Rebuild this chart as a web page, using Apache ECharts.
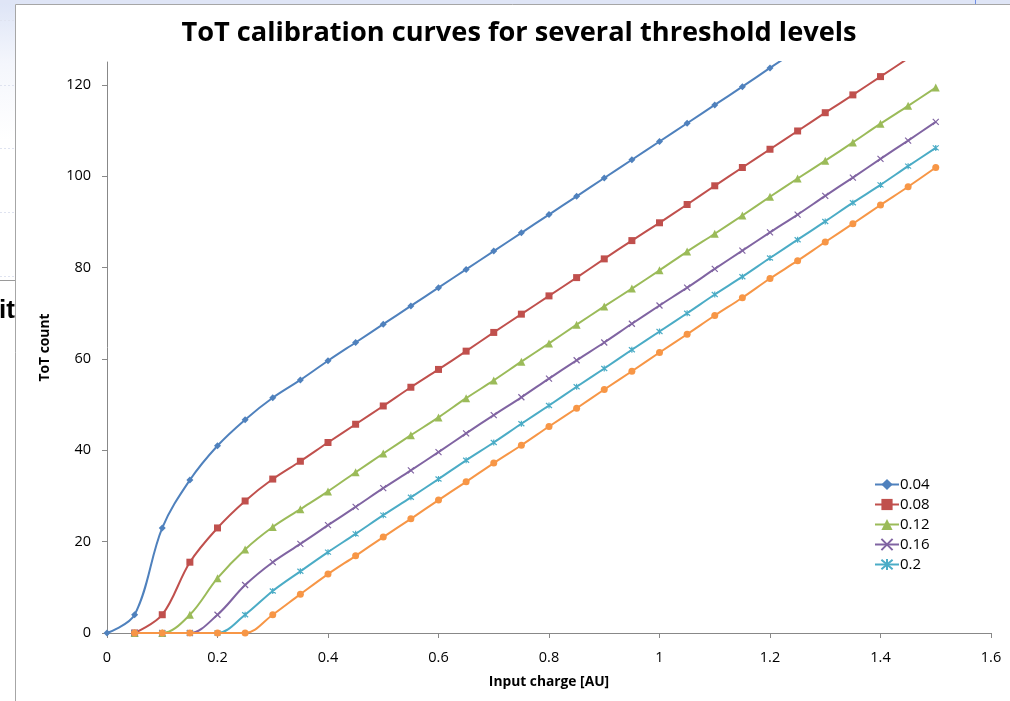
<!DOCTYPE html>
<html>
<head>
<meta charset="utf-8">
<script src="https://cdn.jsdelivr.net/npm/echarts@6/dist/echarts.min.js"></script>
<style>
html,body{margin:0;padding:0;background:#fff;}
#chart{width:1010px;height:701px;}
</style>
</head>
<body>
<div id="chart"></div>
<script>
// ---- data ----
const xValues = [0, 0.05, 0.1, 0.15, 0.2, 0.25, 0.3, 0.35, 0.4, 0.45, 0.5, 0.55, 0.6, 0.65, 0.7, 0.75, 0.8, 0.85, 0.9, 0.95, 1.0, 1.05, 1.1, 1.15, 1.2, 1.25, 1.3, 1.35, 1.4, 1.45, 1.5];
const seriesNames = ['0.04', '0.08', '0.12', '0.16', '0.2', ''];
const th004 = [0, 4, 23, 33.5, 41, 46.7, 51.5, 55.4, 59.6, 63.6, 67.6, 71.6, 75.6, 79.6, 83.6, 87.6, 91.6, 95.6, 99.6, 103.6, 107.6, 111.6, 115.6, 119.6, 123.7, 127.7, 131.7, 135.7, 139.7, 143.7, 147.7];
const th008 = [null, 0, 4, 15.5, 23, 28.9, 33.7, 37.6, 41.7, 45.7, 49.7, 53.8, 57.7, 61.7, 65.8, 69.8, 73.8, 77.8, 81.9, 85.9, 89.8, 93.8, 97.9, 101.9, 105.9, 109.9, 113.9, 117.8, 121.8, 125.8, 129.8];
const th012 = [null, 0, 0, 4, 12, 18.3, 23.2, 27.1, 31, 35.2, 39.3, 43.3, 47.2, 51.4, 55.3, 59.4, 63.4, 67.5, 71.5, 75.4, 79.4, 83.5, 87.4, 91.4, 95.5, 99.5, 103.4, 107.4, 111.5, 115.4, 119.4];
const th016 = [null, 0, 0, 0, 4, 10.5, 15.5, 19.5, 23.6, 27.6, 31.7, 35.6, 39.6, 43.7, 47.7, 51.6, 55.7, 59.7, 63.6, 67.7, 71.7, 75.6, 79.7, 83.7, 87.7, 91.6, 95.7, 99.7, 103.8, 107.8, 111.9];
const th020 = [null, 0, 0, 0, 0, 4, 9.2, 13.5, 17.7, 21.7, 25.8, 29.7, 33.7, 37.8, 41.7, 45.8, 49.8, 53.9, 57.9, 62, 66, 70, 74.1, 78, 82.1, 86.1, 90.1, 94.2, 98.1, 102.2, 106.2];
const th024 = [null, 0, 0, 0, 0, 0, 4, 8.5, 12.9, 16.9, 21, 25, 29.1, 33.1, 37.2, 41.1, 45.2, 49.2, 53.3, 57.3, 61.4, 65.4, 69.5, 73.4, 77.6, 81.5, 85.6, 89.6, 93.7, 97.7, 101.9];
const xTicks = [0, 0.2, 0.4, 0.6, 0.8, 1, 1.2, 1.4, 1.6];
const yTicks = [0, 20, 40, 60, 80, 100, 120];

const colors = ['#4F81BD', '#C0504D', '#9BBB59', '#8064A2', '#4BACC6', '#F79646'];
const symbols = [
  'diamond',
  'rect',
  'triangle',
  'path://M0,0L10,10M10,0L0,10',
  'path://M0,0L10,10M10,0L0,10M5,-1L5,11',
  'circle'
];
const symbolSizes = [7, 7, 8, 6, 6, 7];
const allValues = [th004, th008, th012, th016, th020, th024];

const FONT = 'Open Sans, Liberation Sans, sans-serif';

const series = allValues.map((vals, i) => ({
  name: seriesNames[i] || 'series6',
  type: 'line',
  data: xValues.map((x, k) => vals[k] === null ? null : [x, vals[k]]).filter(p => p !== null),
  smooth: 0.35,
  symbol: symbols[i],
  symbolSize: symbolSizes[i],
  showAllSymbol: true,
  clip: true,
  lineStyle: { color: colors[i], width: 2 },
  itemStyle: { color: colors[i], borderColor: colors[i], borderWidth: (i === 3 || i === 4) ? 1.2 : 0 },
  emphasis: { disabled: true },
  z: 10 + i
}));

const chart = echarts.init(document.getElementById('chart'), null, { renderer: 'canvas' });
chart.setOption({
  animation: false,
  backgroundColor: '#ffffff',
  title: {
    text: 'ToT calibration curves for several threshold levels',
    left: 514, top: 15, textAlign: 'center',
    textStyle: { fontFamily: FONT, fontSize: 27.2, fontWeight: 'bold', color: '#000' }
  },
  legend: {
    orient: 'vertical',
    left: 869, top: 472,
    itemWidth: 24, itemHeight: 14, itemGap: 5,
    data: seriesNames.filter(n => n),
    textStyle: { fontFamily: FONT, fontSize: 15, color: '#000', padding: [0, 0, 0, -4] },
    selectedMode: false
  },
  grid: { left: 107, right: 19, top: 62, bottom: 68, containLabel: false },
  xAxis: {
    type: 'value', min: 0, max: 1.6, interval: 0.2,
    name: 'Input charge [AU]', nameLocation: 'middle', nameGap: 42,
    nameTextStyle: { fontFamily: FONT, fontSize: 13.8, fontWeight: 'bold', color: '#000' },
    axisLine: { show: true, onZero: false, lineStyle: { color: '#888', width: 1 } },
    axisTick: { show: true, length: 5, lineStyle: { color: '#888' } },
    axisLabel: { fontFamily: FONT, fontSize: 14.5, color: '#000', margin: 17,
      formatter: v => String(Math.round(v * 10) / 10) },
    splitLine: { show: false }
  },
  yAxis: {
    type: 'value', min: 0, max: 125,
    name: 'ToT count', nameLocation: 'middle', nameGap: 55, nameRotate: 90,
    nameTextStyle: { fontFamily: FONT, fontSize: 13.8, fontWeight: 'bold', color: '#000' },
    axisLine: { show: true, lineStyle: { color: '#888', width: 1 } },
    axisTick: { show: true, length: 5, customValues: yTicks, lineStyle: { color: '#888' } },
    axisLabel: { fontFamily: FONT, fontSize: 14.5, color: '#000', margin: 16, customValues: yTicks },
    splitLine: { show: false }
  },
  graphic: [
    { type: 'rect', z: -10, shape: { x: 0, y: 0, width: 15, height: 701 },
      style: { fill: new echarts.graphic.LinearGradient(0, 0, 0, 1, [
        { offset: 0, color: '#dde4f6' }, { offset: 0.09, color: '#f4f6fc' }, { offset: 0.2, color: '#ffffff' }, { offset: 1, color: '#ffffff' }]) } },
    { type: 'rect', z: -10, shape: { x: 0, y: 0, width: 1010, height: 4 }, style: { fill: '#dfe5f6' } },
    { type: 'line', z: -9, shape: { x1: 975.5, y1: 0, x2: 975.5, y2: 4 }, style: { stroke: '#6f8fe6', lineWidth: 1 } },
    { type: 'line', z: -9, shape: { x1: 0, y1: 20.5, x2: 15, y2: 20.5 }, style: { stroke: '#dfe3f0', lineWidth: 1, lineDash: [2, 2] } },
    { type: 'line', z: -9, shape: { x1: 0, y1: 85.5, x2: 15, y2: 85.5 }, style: { stroke: '#dfe3f0', lineWidth: 1, lineDash: [2, 2] } },
    { type: 'line', z: -9, shape: { x1: 0, y1: 148.5, x2: 15, y2: 148.5 }, style: { stroke: '#dfe3f0', lineWidth: 1, lineDash: [2, 2] } },
    { type: 'line', z: -9, shape: { x1: 0, y1: 212.5, x2: 15, y2: 212.5 }, style: { stroke: '#dfe3f0', lineWidth: 1, lineDash: [2, 2] } },
    { type: 'line', z: -9, shape: { x1: 0, y1: 276.5, x2: 15, y2: 276.5 }, style: { stroke: '#dfe3f0', lineWidth: 1, lineDash: [2, 2] } },
    { type: 'line', z: -9, shape: { x1: 0, y1: 280.5, x2: 15, y2: 280.5 }, style: { stroke: '#9a9a9a', lineWidth: 1 } },
    { type: 'text', z: -8, x: 15, y: 311, style: { text: 'it', fontFamily: 'Liberation Sans, Arial, sans-serif', fontSize: 26, fontWeight: 'bold', fill: '#000', align: 'right', verticalAlign: 'middle' } },
    { type: 'line', z: -7, shape: { x1: 15.5, y1: 4.5, x2: 15.5, y2: 701 }, style: { stroke: '#a6a6a6', lineWidth: 1 } },
    { type: 'line', z: -7, shape: { x1: 15.5, y1: 4.5, x2: 1010, y2: 4.5 }, style: { stroke: '#a6a6a6', lineWidth: 1 } }
  ],
  series: series
});
</script>
</body>
</html>
